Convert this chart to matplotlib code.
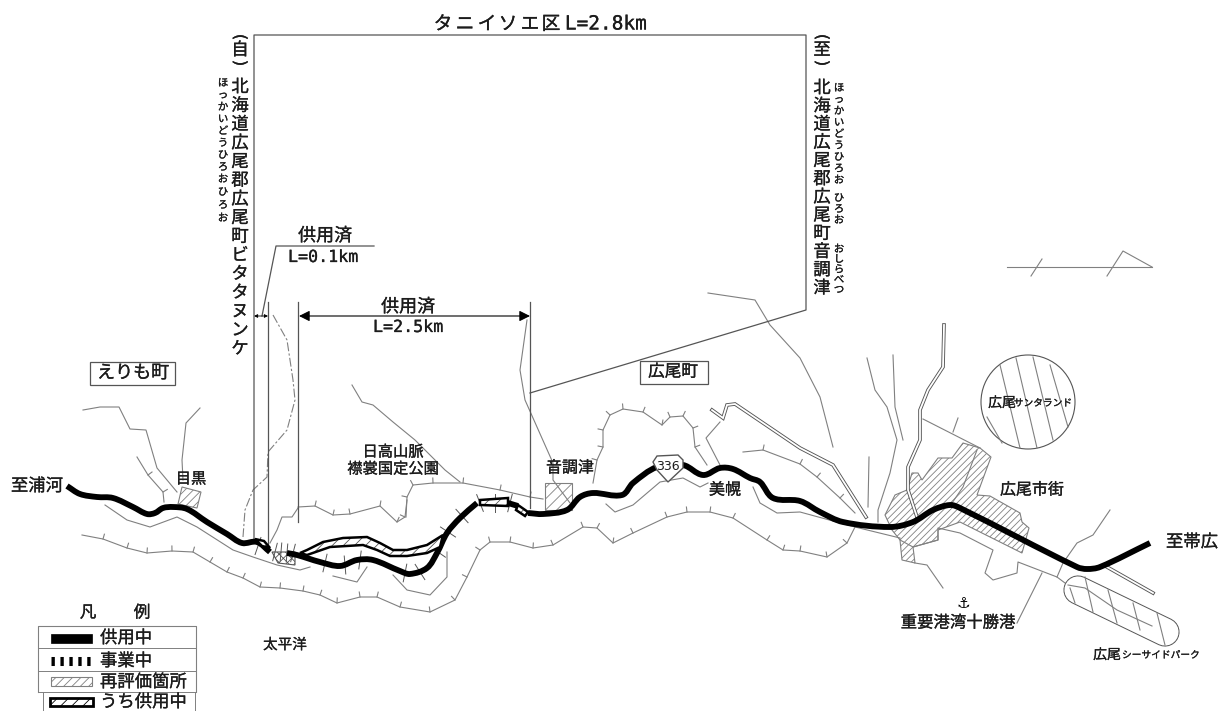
# -*- coding: utf-8 -*-
"""Road plan map, all map coordinates are read off the picture in pixels."""

import numpy as np
import matplotlib
matplotlib.use('Agg')
import matplotlib.pyplot as plt
import matplotlib.patheffects as pe
from matplotlib.path import Path
from matplotlib.patches import Polygon, Circle, Rectangle, PathPatch

plt.rcParams['font.family'] = ['Noto Sans CJK JP', 'DejaVu Sans']
plt.rcParams['hatch.linewidth'] = 0.6

GRAY = '#808080'
DARK = '#555555'
INK = '#1c1c1c'

# main road
road_west = [(67, 486), (80, 494), (97, 497), (113, 498), (133, 507), (147, 514), (155, 513),
             (163, 508), (173, 507), (187, 509), (207, 522), (227, 534), (242, 543), (257, 542),
             (270, 552)]
road_mid = [(287, 553), (297, 555), (320, 562), (340, 566), (357, 560), (373, 560), (400, 571),
            (410, 574), (427, 568), (437, 553), (447, 533), (460, 518), (477, 503)]
road_link = [(508, 503), (518, 506)]
road_east = [(528, 513), (543, 514), (567, 510), (580, 497), (593, 493), (622, 495), (633, 483),
             (657, 467), (683, 465), (703, 475), (720, 468), (733, 469), (750, 478), (760, 482),
             (773, 498), (800, 501), (820, 512), (843, 522), (890, 527), (913, 522), (933, 510),
             (950, 505), (960, 508), (1077, 567), (1087, 569), (1100, 567), (1150, 543)]

# thin lines with hachures
coast_outer = [(82, 535), (103, 539), (127, 548), (147, 553), (172, 551), (193, 552), (210, 562),
               (227, 572), (243, 578), (260, 587), (280, 588), (303, 591), (320, 595), (337, 603),
               (360, 597), (377, 597), (400, 607), (430, 612), (455, 600), (467, 577), (480, 550),
               (490, 542), (510, 542), (533, 548), (553, 545), (583, 527), (597, 528), (613, 543),
               (633, 533), (667, 517), (687, 512), (710, 512), (733, 518), (767, 540), (783, 550),
               (800, 551), (827, 557), (847, 543), (855, 527)]
hill_west = [(137, 457), (148, 475), (163, 492), (164, 502)]
hill_mid = [(298, 507), (315, 506), (333, 515), (350, 514), (380, 506), (397, 522), (405, 517),
            (407, 500)]
hill_park = [(406, 517), (407, 497), (413, 485), (433, 483), (463, 483), (500, 490), (530, 497),
             (543, 499)]
hill_east = [(593, 483), (597, 460), (603, 447), (603, 430), (610, 415), (623, 409), (643, 412),
             (662, 425), (670, 417), (683, 416), (693, 428), (695, 447), (707, 465)]
hill_bimoro = [(743, 452), (763, 450), (800, 464), (817, 477), (840, 498), (855, 513)]
road_ticks = [(240, 540), (258, 546), (275, 552), (281, 552), (287, 553), (293, 553), (325, 563),
              (345, 565), (360, 560), (405, 573), (420, 572), (438, 552), (448, 532), (462, 516),
              (480, 503), (495, 503), (510, 503), (522, 510)]

# thin lines without hachures
inner_coast = [(105, 505), (127, 520), (150, 527), (177, 517), (197, 527), (233, 550), (253, 557),
               (277, 565), (300, 570), (310, 567)]
shore_east = [(855, 527), (900, 538), (900, 540), (913, 547), (938, 540), (938, 528), (960, 533),
              (993, 550), (985, 573), (993, 580), (1017, 573), (1018, 562), (1057, 577),
              (1065, 583)]
river_left = [(83, 410), (100, 407), (119, 407), (130, 429), (146, 430), (157, 468), (177, 492)]
river_meguro = [(200, 408), (186, 423), (182, 460), (183, 480)]
river_mid = [(270, 543), (277, 530), (282, 517), (292, 517), (298, 508)]
ridge = [(352, 385), (362, 402), (373, 405), (393, 422), (415, 440), (445, 470), (460, 482)]
river_oshira = [(527, 320), (520, 370), (525, 400), (553, 463), (553, 480), (570, 503)]
low_road = [(606, 504), (615, 512), (633, 505), (660, 482), (683, 478), (700, 487), (708, 483)]
branch = [(720, 422), (706, 438), (720, 465)]
river_a = [(708, 293), (755, 300), (770, 325), (800, 358), (820, 397), (833, 447)]
river_b = [(867, 358), (875, 390), (887, 407), (897, 440), (890, 473), (878, 510), (878, 522)]
river_c = [(869, 457), (868, 507)]
river_d = [(893, 355), (895, 407), (903, 440)]
shore_low = [(753, 487), (760, 503), (777, 513), (800, 512), (855, 527)]
sea_line = [(915, 563), (927, 565), (943, 588)]
river_e = [(1110, 510), (1093, 535), (1077, 543), (1063, 563), (1057, 577)]
port_leader = [(1042, 573), (1017, 623)]
town_top = [(923, 419), (980, 448)]
town_tick = [(958, 418), (953, 432)]
loop_small = [(333, 576), (357, 582), (367, 567)]
loop_large = [(393, 575), (407, 590), (430, 595), (447, 577), (447, 552)]
north_mark = [[(1007, 267), (1152, 267)], [(1042, 259), (1031, 276)],
              [(1107, 276), (1123, 251), (1152, 267)]]
dashed_path = [(273, 315), (287, 340), (293, 380), (295, 400), (287, 430), (268, 452), (267, 477),
               (253, 490), (245, 510), (243, 537)]

# double lined roads
double_north = [(944, 325), (943, 367), (928, 390), (920, 410), (920, 440), (908, 467), (908, 490),
                (917, 517)]
double_coast = [(712, 410), (723, 418), (727, 405), (735, 404), (800, 448), (833, 465), (866, 517)]
double_east = [(1107, 567), (1153, 593)]

# hatched areas
meguro_box = [(182, 487), (201, 492), (197, 508), (178, 504)]
otoshirabetsu_box = [(545, 483), (572, 483), (572, 510), (545, 510)]
town_area = [(885, 515), (895, 495), (907, 490), (912, 473), (918, 473), (922, 480), (938, 458),
             (952, 458), (963, 443), (980, 448), (991, 457), (977, 495), (990, 496), (1020, 513),
             (1022, 522), (1029, 528), (1022, 553), (960, 522), (938, 530), (938, 540), (913, 547),
             (915, 563), (902, 560), (900, 540), (892, 530)]
town_divider = [(977, 450), (963, 487), (952, 503)]
work_area = [(272, 552), (295, 552), (295, 565), (278, 563)]
band_main = [(300, 553), (307, 550), (323, 542), (343, 538), (367, 537), (380, 543), (393, 550),
             (407, 550), (427, 545), (443, 535), (440, 547), (427, 553), (407, 556), (390, 556),
             (377, 550), (363, 545), (330, 547), (307, 555)]
band_north = [(480, 500), (508, 498), (508, 506), (480, 505)]
band_small = [(518, 505), (528, 512), (525, 516), (516, 510)]
band_west = [(255, 539), (264, 541), (270, 548), (262, 546)]

# parks
sun_center = (1028, 402)
sun_radius = 47
sun_lines = [[(1000, 365), (1020, 448)], [(1016, 358), (1037, 448)], [(1033, 357), (1053, 440)],
             [(1050, 365), (1068, 427)], [(987, 417), (1002, 443)]]
seaside_axis = [(1078, 590), (1165, 632)]
seaside_lines = [[(1070, 588), (1075, 603)], [(1085, 577), (1093, 612)], [(1108, 590), (1117, 623)],
                 [(1133, 603), (1140, 630)], [(1157, 613), (1165, 645)]]
seaside_inner = [(1068, 585), (1085, 588), (1117, 610), (1152, 626)]

# bracket and dimension lines
bracket = [(254, 540), (254, 35), (806, 35), (806, 310), (530, 393)]
vert_lines = [(268, 302, 545), (298, 302, 522), (530, 302, 508)]
leader = [(262, 316), (276, 246), (374, 246)]
shield = [(653, 462), (657, 456), (678, 455), (683, 460), (683, 468), (668, 482), (657, 470)]

title_chars = 'タニイソエ区'
title_x = [443, 465, 487, 508, 530, 551]

labels = [
    (325, 236, '供用済', 13),
    (408, 307, '供用済', 13),
    (133, 373, 'えりも町', 13),
    (673, 372, '広尾町', 12),
    (393, 452, '日高山脈', 11),
    (393, 469, '襟裳国定公園', 11),
    (191, 479, '目黒', 11),
    (570, 468, '音調津', 11.5),
    (725, 490, '美幌', 11.5),
    (1032, 490, '広尾市街', 11.5),
    (37, 486, '至浦河', 12.5),
    (1192, 542, '至帯広', 12.5),
    (285, 645, '太平洋', 10.5),
    (958, 623, '重要港湾十勝港', 11.8),
    (1002, 403, '広尾', 10),
    (1043, 403, 'サンタランド', 7),
    (1107, 655, '広尾', 10),
    (1161, 655, 'シーサイドパーク', 7),
]
mono_labels = [
    (606, 24, 'L=2.8km', 14),
    (323, 257, 'L=0.1km', 12),
    (408, 327, 'L=2.5km', 12),
]

col_left = '北海道広尾郡広尾町ビタタヌンケ'
col_right = '北海道広尾郡広尾町音調津'
kana_groups = [
    (223, 83, 12, 'ほっかいどうひろお'),
    (223, 192, 13, 'ひろお'),
    (839, 88, 11.5, 'ほっかいどうひろお'),
    (839, 198, 11, 'ひろお'),
    (839, 249, 10.2, 'おしらべつ'),
]

legend_rows = ['供用中', '事業中', '再評価箇所', 'うち供用中']
legend_y = [638, 661, 682, 702]
legend_lines = [648, 671]


def xy(points):
    arr = np.array(points, dtype=float)
    return arr[:, 0], arr[:, 1]


def thin(ax, points, color=GRAY, lw=0.8, **kw):
    x, y = xy(points)
    ax.plot(x, y, color=color, lw=lw, solid_joinstyle='round', **kw)


def hachure(ax, points, length=5, both=False, color=GRAY, lw=0.8, base=True):
    # line with a small tick on every inner vertex
    if base:
        thin(ax, points, color=color, lw=lw)
    arr = np.array(points, dtype=float)
    for i in range(1, len(arr) - 1):
        d = arr[i + 1] - arr[i - 1]
        n = np.array([-d[1], d[0]]) / np.hypot(*d)
        if n[1] > 0:
            n = -n
        a = arr[i] + n * length
        b = arr[i] - n * length if both else arr[i]
        ax.plot([a[0], b[0]], [a[1], b[1]], color=color, lw=lw)


def road(ax, points, lw=4.2):
    # the vertices are joined with bezier curves so that the road stays smooth
    p = np.array(points, dtype=float)
    verts = [p[0]]
    codes = [Path.MOVETO]
    for i in range(len(p) - 1):
        p0 = p[max(i - 1, 0)]
        p3 = p[min(i + 2, len(p) - 1)]
        seg = np.hypot(*(p[i + 1] - p[i]))
        t1 = p[i + 1] - p0
        t2 = p3 - p[i]
        verts.append(p[i] + t1 / np.hypot(*t1) * seg / 3)
        verts.append(p[i + 1] - t2 / np.hypot(*t2) * seg / 3)
        verts.append(p[i + 1])
        codes += [Path.CURVE4] * 3
    ax.add_patch(PathPatch(Path(verts, codes), fill=False, edgecolor='black', lw=lw,
                           capstyle='butt', joinstyle='round', zorder=5))


def double(ax, points):
    x, y = xy(points)
    ax.plot(x, y, color=DARK, lw=2.6, solid_joinstyle='miter', zorder=2)
    ax.plot(x, y, color='white', lw=1.3, solid_joinstyle='miter', zorder=2.1)


def area(ax, points, hatch='////', color=GRAY, lw=0.8, zorder=1):
    ax.add_patch(Polygon(points, closed=True, fill=False, hatch=hatch, edgecolor=color, lw=lw,
                         zorder=zorder))


def band(ax, points):
    ax.add_patch(Polygon(points, closed=True, facecolor='white', hatch='///', edgecolor=DARK,
                         lw=0, zorder=6))
    ax.add_patch(Polygon(points, closed=True, fill=False, edgecolor='black', lw=1.8, zorder=6.1))


def put(ax, x, y, s, size, ha='center', **kw):
    # small stroke since the text of the original drawing is rather heavy
    t = ax.text(x, y, s, fontsize=size, ha=ha, va='center', color=INK, zorder=9, **kw)
    t.set_path_effects([pe.withStroke(linewidth=0.2, foreground=INK)])
    return t


def column(ax, x, y0, step, chars, size):
    for i, c in enumerate(chars):
        put(ax, x, y0 + i * step, c, size)


fig = plt.figure(figsize=(12.21, 7.11), dpi=100)
ax = fig.add_axes([0, 0, 1, 1])
ax.set_xlim(0, 1221)
ax.set_ylim(711, 0)
ax.axis('off')

# base map
for line in [coast_outer, hill_west, hill_mid, hill_park, hill_east, hill_bimoro]:
    hachure(ax, line)
hachure(ax, road_ticks, length=9, both=True, color=DARK, lw=0.7, base=False)
for line in [inner_coast, shore_east, river_left, river_meguro, river_mid, ridge, river_oshira,
             low_road, branch, river_a, river_b, river_c, river_d, shore_low, sea_line, river_e,
             port_leader, town_top, town_tick, town_divider, loop_small, loop_large]:
    thin(ax, line)
for line in north_mark:
    thin(ax, line)
x, y = xy(dashed_path)
ax.plot(x, y, color=GRAY, lw=0.8, ls=(0, (8, 2, 2, 2)))

for line in [double_north, double_coast, double_east]:
    double(ax, line)

area(ax, meguro_box)
area(ax, otoshirabetsu_box, hatch='///')
area(ax, town_area, hatch='/////')
area(ax, work_area, hatch='xxxx', color=DARK)

# parks
sun = Circle(sun_center, sun_radius, facecolor='white', edgecolor=DARK, lw=0.8, zorder=2)
ax.add_patch(sun)
for line in sun_lines:
    thin(ax, line, zorder=2.1)
x, y = xy(seaside_axis)
ax.plot(x, y, color=DARK, lw=21, solid_capstyle='round', zorder=2)
ax.plot(x, y, color='white', lw=19.6, solid_capstyle='round', zorder=2.1)
for line in seaside_lines:
    thin(ax, line, zorder=2.2)
thin(ax, seaside_inner, zorder=2.2)

# road
for line in [road_west, road_mid, road_link, road_east]:
    road(ax, line)
for poly in [band_main, band_north, band_small, band_west]:
    band(ax, poly)
ax.add_patch(Polygon(shield, closed=True, facecolor='white', edgecolor=DARK, lw=1, zorder=7))
ax.text(668, 466, '336', fontsize=9, ha='center', va='center', color=INK, zorder=8,
        family='DejaVu Sans')
ax.text(963, 604, '⚓', fontsize=11, ha='center', va='center', family='DejaVu Sans')

# bracket and dimensions
thin(ax, bracket, color=DARK, lw=0.9, zorder=4)
for vx, y0, y1 in vert_lines:
    ax.plot([vx, vx], [y0, y1], color=DARK, lw=0.9, zorder=4)
thin(ax, leader, color=DARK, lw=0.9)
ax.annotate('', xy=(254, 316), xytext=(268, 316),
            arrowprops=dict(arrowstyle='<|-|>', color='black', lw=0.6, mutation_scale=5,
                            shrinkA=0, shrinkB=0))
ax.annotate('', xy=(299, 316), xytext=(530, 316),
            arrowprops=dict(arrowstyle='<|-|>', color='black', lw=0.8, mutation_scale=16,
                            shrinkA=0, shrinkB=0))

# texts
for tx, c in zip(title_x, title_chars):
    put(ax, tx, 24, c, 13.5)
for lx, ly, s, size in labels:
    put(ax, lx, ly, s, size)
for lx, ly, s, size in mono_labels:
    put(ax, lx, ly, s, size, family='DejaVu Sans Mono')
ax.add_patch(Rectangle((90, 362), 85, 23, fill=False, edgecolor=DARK, lw=0.9))
ax.add_patch(Rectangle((640, 361), 68, 23, fill=False, edgecolor=DARK, lw=0.9))

for cx, text_col in [(240, '自'), (822, '至')]:
    put(ax, cx, 37, '(', 12, rotation=-90, family='DejaVu Sans')
    put(ax, cx, 50, text_col, 12.5)
    put(ax, cx, 63, ')', 12, rotation=-90, family='DejaVu Sans')
column(ax, 240, 87, 18.7, col_left, 12.5)
column(ax, 822, 88, 18.2, col_right, 12.5)
for kx, ky, step, chars in kana_groups:
    column(ax, kx, ky, step, chars, 7.5)

# legend
put(ax, 88, 613, '凡', 12)
put(ax, 142, 613, '例', 12)
thin(ax, [(38, 692), (38, 626), (196, 626), (196, 692)], lw=0.8)
for ly in legend_lines:
    thin(ax, [(38, ly), (196, ly)], lw=0.7)
thin(ax, [(38, 692), (196, 692)], lw=0.7)
thin(ax, [(43, 711), (43, 692)], lw=0.7)
thin(ax, [(195, 711), (195, 692)], lw=0.7)
for s, ly in zip(legend_rows, legend_y):
    put(ax, 100, ly, s, 12.5, ha='left')
ax.add_patch(Rectangle((51, 634), 41, 9, facecolor='black', edgecolor='black', lw=0.5))
ax.plot([51, 92], [661, 661], color='black', lw=6.5, ls=(0, (0.37, 0.62)))
ax.add_patch(Rectangle((51, 677), 41, 9, fill=False, hatch='////', edgecolor=GRAY, lw=0.8))
ax.add_patch(Rectangle((50, 698), 43, 8, facecolor='white', hatch='///', edgecolor='black', lw=2))

fig.savefig('out.png', dpi=100)
